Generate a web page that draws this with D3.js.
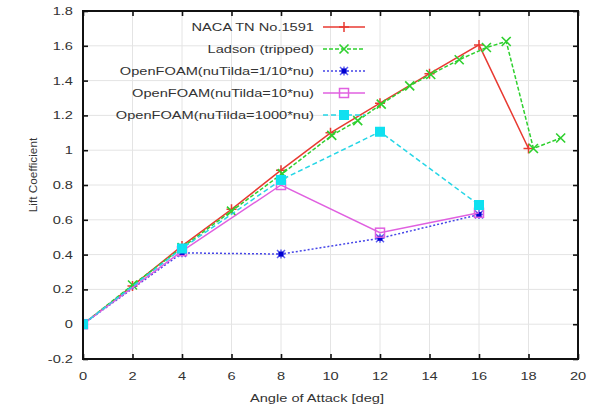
<!DOCTYPE html>
<html><head><meta charset="utf-8">
<script src="https://cdn.jsdelivr.net/npm/d3@7"></script>
<style>body{margin:0;background:#fff}svg{display:block}text{font-family:"Liberation Sans",Arial,sans-serif;fill:#333}</style>
</head><body>
<svg id="c" width="598" height="410"></svg>
<script>
const xTicks=[0,2,4,6,8,10,12,14,16,18,20];
const yTicks=[-0.2,0,0.2,0.4,0.6,0.8,1,1.2,1.4,1.6,1.8];
const seriesNames=["NACA TN No.1591","Ladson (tripped)","OpenFOAM(nuTilda=1/10*nu)","OpenFOAM(nuTilda=10*nu)","OpenFOAM(nuTilda=1000*nu)"];
const nacaAlpha=[0,2,4,6,8,10,12,14,16,18];
const nacaCL=[0,0.22,0.45,0.66,0.885,1.1,1.27,1.44,1.605,1.01];
const ladsonAlpha=[0,2,4,6,8.05,10.05,11.1,12.05,13.2,14.05,15.2,16.3,17.1,18.2,19.3];
const ladsonCL=[0,0.225,0.44,0.65,0.865,1.085,1.17,1.265,1.37,1.435,1.52,1.59,1.625,1.01,1.07];
const ofAlpha=[0,4,8,12,16];
const of01CL=[0,0.41,0.403,0.494,0.63];
const of10CL=[0,0.42,0.80,0.526,0.64];
const of1000CL=[0,0.435,0.829,1.106,0.685];

const svg=d3.select("#c");
const L=83,R=578,T=11,B=359, SX=1.33;
const x=d3.scaleLinear().domain([0,20]).range([L,R]);
const y=d3.scaleLinear().domain([-0.2,1.8]).range([B,T]);

// grid
const g=svg.append("g");
g.selectAll(".gx").data(xTicks.slice(1,-1)).join("line")
 .attr("x1",d=>x(d)).attr("x2",d=>x(d)).attr("y1",T).attr("y2",B)
 .attr("stroke","#e4e4e4").attr("stroke-width",1);
g.selectAll(".gy").data(yTicks.slice(1,-1)).join("line")
 .attr("y1",d=>y(d)).attr("y2",d=>y(d)).attr("x1",L).attr("x2",R)
 .attr("stroke","#e4e4e4").attr("stroke-width",1);

// axes ticks (inner, mirrored)
function styleAxis(sel){sel.select(".domain").remove();sel.selectAll("text").remove();sel.selectAll("line").attr("stroke","#111").attr("stroke-width",1.6);}
svg.append("g").attr("transform",`translate(0,${B})`).call(d3.axisBottom(x).tickValues(xTicks).tickSize(-5)).call(styleAxis);
svg.append("g").attr("transform",`translate(0,${T})`).call(d3.axisTop(x).tickValues(xTicks).tickSize(-5)).call(styleAxis);
svg.append("g").attr("transform",`translate(${L},0)`).call(d3.axisLeft(y).tickValues(yTicks).tickSize(-5)).call(styleAxis);
svg.append("g").attr("transform",`translate(${R},0)`).call(d3.axisRight(y).tickValues(yTicks).tickSize(-5)).call(styleAxis);

// tick labels
function stext(px,py,str,anchor,size){
  const gg=svg.append("g").attr("transform",`translate(${px},${py}) scale(${SX},1)`);
  gg.append("text").attr("text-anchor",anchor).attr("font-size",size||11).text(str);
}
xTicks.forEach(d=>stext(x(d),380,String(d),"middle"));
yTicks.forEach(d=>stext(73,y(d)+4,String(d),"end"));
stext(317,402,"Angle of Attack [deg]","middle");
svg.append("text").attr("transform",`translate(37,175) rotate(-90)`).attr("text-anchor","middle").attr("font-size",11.8).text("Lift Coefficient");

// series
const series=[
 {name:seriesNames[0],xs:nacaAlpha,ys:nacaCL,color:"#e83a32",dash:null,marker:"plus"},
 {name:seriesNames[1],xs:ladsonAlpha,ys:ladsonCL,color:"#2ed02e",dash:"4,2",marker:"cross"},
 {name:seriesNames[2],xs:ofAlpha,ys:of01CL,color:"#4545e8",dash:"2,2",marker:"star",mcolor:"#0000d0"},
 {name:seriesNames[3],xs:ofAlpha,ys:of10CL,color:"#e060e0",dash:null,marker:"osq"},
 {name:seriesNames[4],xs:ofAlpha,ys:of1000CL,color:"#26d6e6",dash:"5,3",marker:"fsq",mcolor:"#10e0f0"}
];
const clip=svg.append("defs").append("clipPath").attr("id","pc").append("rect").attr("x",L).attr("y",T).attr("width",R-L).attr("height",B-T);
const line=d3.line().x(d=>x(d[0])).y(d=>y(d[1]));
function marker(sel,type,cx,cy,color,mcolor){
  const m=sel.append("g").attr("transform",`translate(${cx},${cy})`);
  const c=mcolor||color;
  if(type==="plus"){m.append("path").attr("d","M-5,0H5M0,-5V5").attr("stroke",c).attr("stroke-width",1.5).attr("fill","none");}
  else if(type==="cross"){m.append("path").attr("d","M-4.5,-4.5L4.5,4.5M-4.5,4.5L4.5,-4.5").attr("stroke",c).attr("stroke-width",1.6).attr("fill","none");}
  else if(type==="star"){m.append("path").attr("d","M-4.5,0H4.5M0,-4.5V4.5M-4,-4L4,4M-4,4L4,-4").attr("stroke","#6060f0").attr("stroke-width",1.5).attr("fill","none");
     m.append("rect").attr("x",-2.5).attr("y",-2.5).attr("width",5).attr("height",5).attr("fill",c);}
  else if(type==="osq"){m.append("rect").attr("x",-4.5).attr("y",-4.5).attr("width",9).attr("height",9).attr("fill","none").attr("stroke",c).attr("stroke-width",1.5);}
  else if(type==="fsq"){m.append("rect").attr("x",-5).attr("y",-5).attr("width",10).attr("height",10).attr("fill",c);}
}
const plot=svg.append("g").attr("clip-path","url(#pc)");
series.forEach(s=>{
  const pts=s.xs.map((a,i)=>[a,s.ys[i]]);
  plot.append("path").datum(pts).attr("d",line).attr("fill","none").attr("stroke",s.color).attr("stroke-width",1.5).attr("stroke-dasharray",s.dash);
  pts.forEach(p=>marker(plot,s.marker,x(p[0]),y(p[1]),s.color,s.mcolor));
});

// frame
svg.append("rect").attr("x",L).attr("y",T).attr("width",R-L).attr("height",B-T).attr("fill","none").attr("stroke","#111").attr("stroke-width",2);

// legend
const legY=[27,49,71,93,115];
series.forEach((s,i)=>{
  stext(314,legY[i]+4,s.name,"end");
  svg.append("line").attr("x1",323).attr("x2",365).attr("y1",legY[i]).attr("y2",legY[i]).attr("stroke",s.color).attr("stroke-width",1.5).attr("stroke-dasharray",s.dash);
  marker(svg,s.marker,344,legY[i],s.color,s.mcolor);
});
</script>
</body></html>
